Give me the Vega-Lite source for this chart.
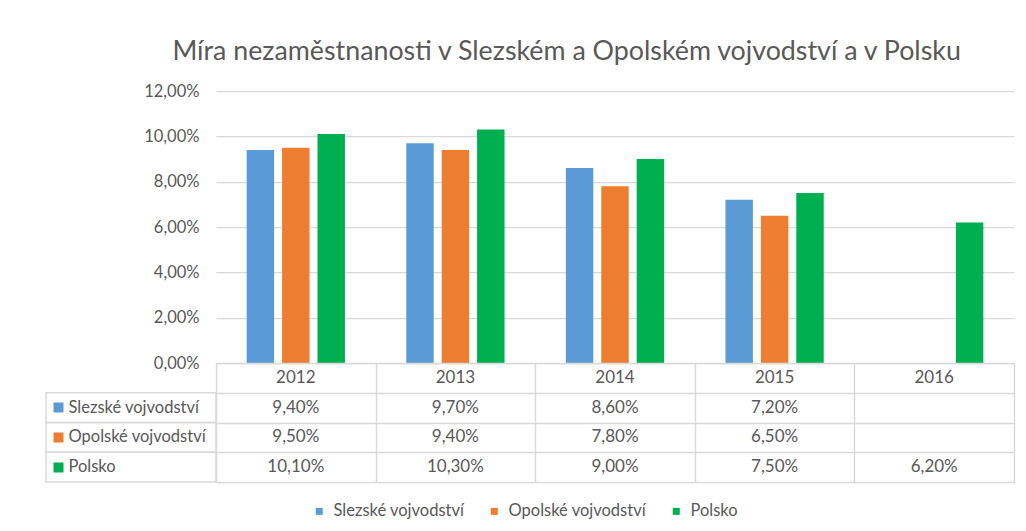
{
  "$schema": "https://vega.github.io/schema/vega-lite/v6.json",
  "padding": {"left": 45, "top": 39, "right": 12, "bottom": 10},
  "background": "white",
  "title": {
    "text": "Míra nezaměstnanosti v Slezském a Opolském vojvodství a v Polsku",
    "anchor": "middle",
    "dx": 37,
    "offset": 17,
    "fontSize": 26.8,
    "font": "Lato",
    "fontWeight": "normal",
    "color": "#595959"
  },
  "data": {
    "values": [
      {"year": 2012, "series": "Slezské vojvodství", "value": 0.094},
      {"year": 2013, "series": "Slezské vojvodství", "value": 0.097},
      {"year": 2014, "series": "Slezské vojvodství", "value": 0.086},
      {"year": 2015, "series": "Slezské vojvodství", "value": 0.072},
      {"year": 2012, "series": "Opolské vojvodství", "value": 0.095},
      {"year": 2013, "series": "Opolské vojvodství", "value": 0.094},
      {"year": 2014, "series": "Opolské vojvodství", "value": 0.078},
      {"year": 2015, "series": "Opolské vojvodství", "value": 0.065},
      {"year": 2012, "series": "Polsko", "value": 0.101},
      {"year": 2013, "series": "Polsko", "value": 0.103},
      {"year": 2014, "series": "Polsko", "value": 0.090},
      {"year": 2015, "series": "Polsko", "value": 0.075},
      {"year": 2016, "series": "Polsko", "value": 0.062}
    ]
  },
  "columns": 2,
  "spacing": 0,
  "bounds": "flush",
  "align": "each",
  "resolve": {"scale": {"x": "independent", "y": "independent"}},
  "concat": [
    {
      "width": 170,
      "height": 272,
      "data": {"values": []},
      "mark": "rect"
    },
    {
      "width": 798,
      "height": 272,
      "mark": {"type": "bar"},
      "encoding": {
        "x": {"field": "year", "type": "nominal", "scale": {"paddingInner": 0, "paddingOuter": 0}, "axis": null},
        "xOffset": {"field": "series", "type": "nominal", "scale": {"domain": ["Slezské vojvodství", "Opolské vojvodství", "Polsko"], "paddingInner": 0.225, "paddingOuter": 0.866}},
        "y": {
          "field": "value", "type": "quantitative",
          "scale": {"domain": [0, 0.12]},
          "axis": {
            "values": [0, 0.02, 0.04, 0.06, 0.08, 0.1, 0.12],
            "format": ".2%", "title": null, "domain": false, "ticks": false, "tickSize": 0,
            "labelPadding": 17, "grid": true, "gridColor": "#D9D9D9", "gridWidth": 1.25,
            "labelFontSize": 16.5, "labelColor": "#595959", "labelFont": "Lato"
          }
        },
        "color": {
          "field": "series", "type": "nominal",
          "scale": {"domain": ["Slezské vojvodství", "Opolské vojvodství", "Polsko"], "range": ["#5B9BD5", "#ED7D31", "#00B050"]},
          "legend": {
            "title": null, "orient": "none", "direction": "horizontal",
            "legendX": 265, "legendY": 412,
            "symbolType": "square", "symbolSize": 49, "symbolStrokeWidth": 0,
            "labelFontSize": 16.5, "labelColor": "#595959", "labelFont": "Lato",
            "labelOffset": 6, "columnPadding": 21, "padding": 0
          }
        }
      }
    },
    {
      "width": 170,
      "height": 119,
      "transform": [{"filter": "datum.year == 2012"}],
      "mark": {"type": "rect", "filled": false, "stroke": "#D9D9D9", "strokeWidth": 1.5},
      "encoding": {
        "y": {
          "field": "series", "type": "nominal",
          "scale": {"domain": ["Rok", "Slezské vojvodství", "Opolské vojvodství", "Polsko"], "paddingInner": 0, "paddingOuter": 0},
          "axis": {
            "title": null, "domain": false, "grid": false, "ticks": true,
            "tickSize": -10, "tickWidth": 10, "tickCap": "butt", "offset": -7,
            "tickColor": {
              "condition": [
                {"test": "datum.value == 'Slezské vojvodství'", "value": "#5B9BD5"},
                {"test": "datum.value == 'Opolské vojvodství'", "value": "#ED7D31"},
                {"test": "datum.value == 'Polsko'", "value": "#00B050"}
              ],
              "value": "transparent"
            },
            "labelAlign": "left", "labelPadding": -5, "labelFontSize": 16.5, "labelColor": "#595959", "labelFont": "Lato",
            "labelExpr": "datum.value == 'Rok' ? '' : datum.label"
          }
        }
      }
    },
    {
      "width": 798,
      "height": 119,
      "layer": [
        {
          "mark": {"type": "text", "fontSize": 17, "color": "#595959", "font": "Lato", "align": "center", "baseline": "middle"},
          "encoding": {
            "x": {"field": "year", "type": "nominal", "scale": {"paddingInner": 0, "paddingOuter": 0},
              "axis": {"title": null, "grid": true, "tickBand": "extent", "labels": false, "ticks": false, "domain": false, "gridColor": "#D9D9D9", "gridWidth": 1.5}},
            "y": {"field": "series", "type": "nominal",
              "scale": {"domain": ["Rok", "Slezské vojvodství", "Opolské vojvodství", "Polsko"], "paddingInner": 0, "paddingOuter": 0},
              "axis": {"title": null, "grid": true, "tickBand": "extent", "labels": false, "ticks": false, "domain": false, "gridColor": "#D9D9D9", "gridWidth": 1.5}},
            "text": {"field": "value", "type": "quantitative", "format": ".2%"}
          }
        },
        {
          "transform": [{"filter": "datum.series == 'Polsko'"}],
          "mark": {"type": "text", "fontSize": 17, "color": "#595959", "font": "Lato", "align": "center", "baseline": "middle"},
          "encoding": {
            "x": {"field": "year", "type": "nominal"},
            "y": {"datum": "Rok", "type": "nominal"},
            "text": {"field": "year", "type": "nominal"}
          }
        }
      ]
    }
  ],
  "config": {
    "font": "Lato",
    "view": {"stroke": null},
    "locale": {
      "number": {"decimal": ",", "thousands": " ", "grouping": [3], "currency": ["", " Kč"]}
    }
  }
}
